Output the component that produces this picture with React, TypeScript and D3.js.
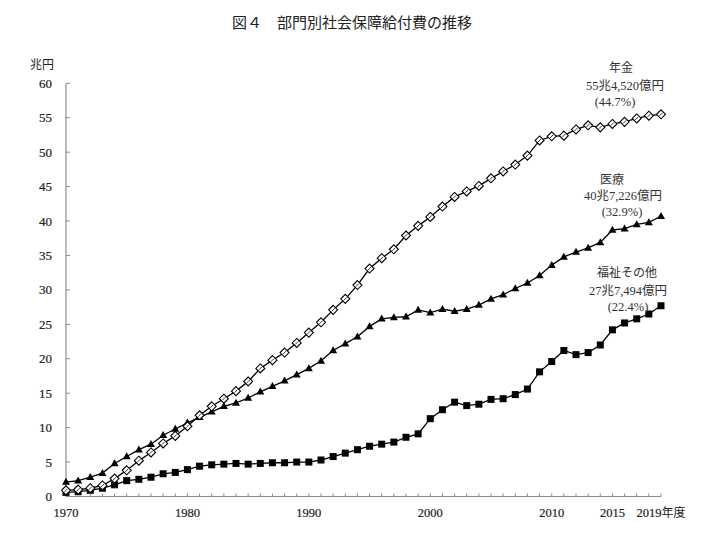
import React from "react";
import * as d3 from "d3";

const years: number[] = Array.from({ length: 50 }, (_, i) => 1970 + i);

const pension: number[] = [
  0.9, 1.0, 1.2, 1.6, 2.6, 3.8, 5.2, 6.4, 7.7, 8.8,
  10.2, 11.8, 13.1, 14.2, 15.3, 16.7, 18.6, 19.8, 20.9, 22.3,
  23.8, 25.3, 27.1, 28.7, 30.7, 33.1, 34.6, 35.9, 37.9, 39.3,
  40.6, 42.1, 43.5, 44.3, 45.1, 46.2, 47.2, 48.2, 49.5, 51.7,
  52.3, 52.4, 53.3, 53.9, 53.6, 54.1, 54.4, 54.9, 55.3, 55.5,
];

const medical: number[] = [
  2.1, 2.3, 2.8, 3.4, 4.8, 5.8, 6.8, 7.6, 8.9, 9.8,
  10.7, 11.5, 12.3, 13.1, 13.6, 14.3, 15.2, 16.0, 16.8, 17.7,
  18.6, 19.7, 21.2, 22.2, 23.2, 24.7, 25.8, 26.0, 26.1, 27.1,
  26.7, 27.2, 26.9, 27.2, 27.8, 28.7, 29.3, 30.2, 31.0, 32.1,
  33.6, 34.8, 35.5, 36.1, 36.9, 38.7, 38.9, 39.5, 39.8, 40.7,
];

const welfare: number[] = [
  0.6, 0.7, 0.9, 1.2, 1.7, 2.3, 2.5, 2.8, 3.3, 3.5,
  3.9, 4.4, 4.6, 4.7, 4.8, 4.7, 4.8, 4.9, 4.9, 5.0,
  5.0, 5.3, 5.8, 6.3, 6.8, 7.3, 7.6, 7.9, 8.6, 9.1,
  11.3, 12.6, 13.7, 13.2, 13.4, 14.1, 14.2, 14.8, 15.6, 18.1,
  19.6, 21.2, 20.6, 20.9, 22.0, 24.2, 25.2, 25.8, 26.5, 27.7,
];

const yTicks: number[] = [0, 5, 10, 15, 20, 25, 30, 35, 40, 45, 50, 55, 60];
const xLabelYears: number[] = [1970, 1980, 1990, 2000, 2010, 2015];

const labelPension: string[] = ["年金", "55兆4,520億円", "(44.7%)"];
const labelMedical: string[] = ["医療", "40兆7,226億円", "(32.9%)"];
const labelWelfare: string[] = ["福祉その他", "27兆7,494億円", "(22.4%)"];

const SERIF = "'Liberation Serif', 'DejaVu Serif', 'Noto Sans CJK JP', serif";
const JP = "'Noto Sans CJK JP', sans-serif";

export default function App() {
  const W = 720;
  const H = 533;
  const x = d3.scaleLinear().domain([1970, 2019]).range([66, 661]);
  const y = d3.scaleLinear().domain([0, 60]).range([496.5, 83.3]);

  const line = d3
    .line<number>()
    .x((_, i) => x(years[i]))
    .y((d) => y(d));

  const axisColor = "#8c8c8c";
  const textColor = "#222";
  const numStroke = { stroke: "#222", strokeWidth: 0.2 };

  const annot = (lines: string[], cx: number[], ys: number[]) =>
    lines.map((t, i) => (
      <text
        key={i}
        x={cx[i]}
        y={ys[i]}
        textAnchor="middle"
        fontSize={12.5}
        fill="#333"
        fontFamily={SERIF}
      >
        {t}
      </text>
    ));

  return (
    <svg
      width={W}
      height={H}
      style={{ position: "absolute", left: 0, top: 0, background: "#fff" }}
    >
      <rect x={0} y={0} width={W} height={H} fill="#fff" />
      <text
        x={352}
        y={28}
        textAnchor="middle"
        fontSize={15}
        fontFamily={JP}
        fill={textColor}
        style={{ whiteSpace: "pre" }}
      >
        {"図４　部門別社会保障給付費の推移"}
      </text>

      {/* y axis */}
      <line x1={66} x2={66} y1={y(60)} y2={y(0)} stroke={axisColor} strokeWidth={1.2} />
      {yTicks.map((t) => (
        <g key={t}>
          <line x1={66} x2={70} y1={y(t)} y2={y(t)} stroke={axisColor} strokeWidth={1} />
          <text
            x={52}
            y={y(t) + 4.5}
            textAnchor="end"
            fontSize={13}
            fontFamily={SERIF}
            fill={textColor}
            {...numStroke}
          >
            {t}
          </text>
        </g>
      ))}
      <text x={30} y={69} fontSize={12} fontFamily={JP} fill={textColor}>
        兆円
      </text>

      {/* x axis */}
      <line x1={x(1970)} x2={x(2019)} y1={y(0)} y2={y(0)} stroke={axisColor} strokeWidth={1.2} />
      {years.map((yr) => (
        <line
          key={yr}
          x1={x(yr)}
          x2={x(yr)}
          y1={y(0)}
          y2={y(0) - 3}
          stroke={axisColor}
          strokeWidth={1}
        />
      ))}
      {xLabelYears.map((yr) => (
        <text
          key={yr}
          x={x(yr)}
          y={517}
          textAnchor="middle"
          fontSize={12.5}
          fontFamily={SERIF}
          fill={textColor}
          {...numStroke}
        >
          {yr}
        </text>
      ))}
      <text x={x(2019)} y={517} textAnchor="middle" fontSize={12.5} fontFamily={SERIF} fill={textColor} {...numStroke}>
        2019
        <tspan fontFamily={JP} fontSize={12} strokeWidth={0}>年度</tspan>
      </text>

      {/* lines */}
      <path d={line(welfare) || ""} fill="none" stroke="#000" strokeWidth={1.3} />
      <path d={line(medical) || ""} fill="none" stroke="#000" strokeWidth={1.3} />
      <path d={line(pension) || ""} fill="none" stroke="#000" strokeWidth={1.3} />

      {/* markers */}
      {welfare.map((v, i) => (
        <rect key={"w" + i} x={x(years[i]) - 3.5} y={y(v) - 3.5} width={7} height={7} fill="#000" />
      ))}
      {medical.map((v, i) => {
        const cx = x(years[i]);
        const cy = y(v);
        return (
          <path
            key={"m" + i}
            d={`M${cx},${cy - 4.2}L${cx + 4},${cy + 2.8}L${cx - 4},${cy + 2.8}Z`}
            fill="#000"
          />
        );
      })}
      {pension.map((v, i) => {
        const cx = x(years[i]);
        const cy = y(v);
        return (
          <g key={"p" + i}>
            <path
              d={`M${cx},${cy - 4.5}L${cx + 4.5},${cy}L${cx},${cy + 4.5}L${cx - 4.5},${cy}Z`}
              fill="#fff"
              stroke="#000"
              strokeWidth={1.1}
            />
            <path
              d={`M${cx - 1.5},${cy + 1.5}L${cx + 1.5},${cy - 1.5}`}
              stroke="#000"
              strokeWidth={0.8}
            />
          </g>
        );
      })}

      {/* annotations */}
      <g>
        <text x={621} y={72} textAnchor="middle" fontSize={12} fontFamily={JP} fill="#333">
          {labelPension[0]}
        </text>
        {annot([labelPension[1], labelPension[2]], [625, 615], [90, 106])}
      </g>
      <g>
        <text x={612} y={184} textAnchor="middle" fontSize={12} fontFamily={JP} fill="#333">
          {labelMedical[0]}
        </text>
        {annot([labelMedical[1], labelMedical[2]], [623, 622], [200, 216])}
      </g>
      <g>
        <text x={627} y={277} textAnchor="middle" fontSize={12} fontFamily={JP} fill="#333">
          {labelWelfare[0]}
        </text>
        {annot([labelWelfare[1], labelWelfare[2]], [628, 628], [295, 311])}
      </g>
    </svg>
  );
}
